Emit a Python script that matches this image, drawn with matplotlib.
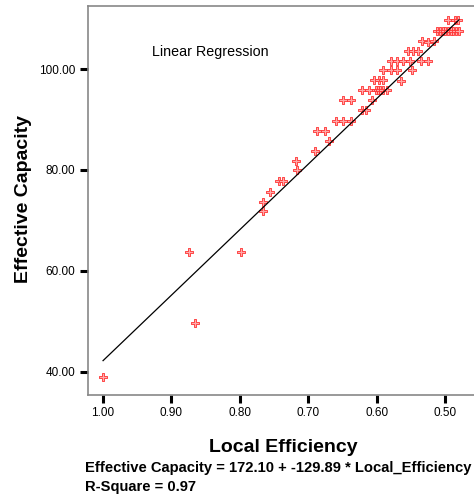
import numpy as np
import matplotlib
matplotlib.use("Agg")
import matplotlib.pyplot as plt

plt.rcParams['font.family'] = ['Liberation Sans', 'DejaVu Sans']

# local efficiency (x) and effective capacity (y)
local_eff = [1.000, 0.874, 0.866, 0.799,
             0.767, 0.767, 0.756, 0.743, 0.737, 0.718, 0.716,
             0.690, 0.687, 0.676, 0.670,
             0.660, 0.649, 0.638, 0.649, 0.638,
             0.621, 0.616, 0.607,
             0.621, 0.612, 0.601, 0.598, 0.596, 0.591, 0.585,
             0.604, 0.597, 0.591, 0.564,
             0.591, 0.580, 0.570, 0.548,
             0.580, 0.570, 0.562, 0.552, 0.535, 0.525,
             0.554, 0.547, 0.540,
             0.534, 0.525, 0.516,
             0.512, 0.508, 0.504, 0.500, 0.496, 0.492, 0.488, 0.484, 0.480,
             0.496, 0.486, 0.482]
eff_capacity = [39.0, 63.8, 49.7, 63.8,
                73.6, 71.8, 75.7, 77.8, 77.8, 81.8, 80.0,
                83.8, 87.8, 87.8, 85.8,
                89.8, 89.8, 89.8, 93.8, 93.8,
                91.8, 91.8, 93.8,
                95.8, 95.8, 95.8, 95.8, 95.8, 95.8, 95.8,
                97.8, 97.8, 97.8, 97.6,
                99.8, 99.8, 99.8, 99.8,
                101.6, 101.6, 101.6, 101.6, 101.6, 101.6,
                103.6, 103.6, 103.6,
                105.6, 105.4, 105.6,
                107.6, 107.6, 107.6, 107.6, 107.6, 107.6, 107.6, 107.6, 107.6,
                109.8, 109.8, 109.8]

intercept = 172.10
slope = -129.89
r_square = 0.97

x_ticks = [1.00, 0.90, 0.80, 0.70, 0.60, 0.50]
y_ticks = [40, 60, 80, 100]

fig = plt.figure(figsize=(4.74, 4.95), dpi=100)
ax = fig.add_axes([88 / 474, 1 - 395 / 495, 386 / 474, 389 / 495])

x = np.array(local_eff)
y = np.array(eff_capacity)
ax.scatter(x, y, marker='P', s=26, facecolor='#ffaaaa', edgecolor='#ff3030',
           linewidth=0.6, zorder=2)

xl = np.array([x.max(), x.min()])
ax.plot(xl, intercept + slope * xl, color='black', linewidth=0.9, zorder=3)

ax.set_xlim(1.022, 0.458)
ax.set_ylim(35.4, 112.5)
ax.set_xticks(x_ticks)
ax.set_xticklabels([f"{v:.2f}" for v in x_ticks])
ax.set_yticks(y_ticks)
ax.set_yticklabels([f"{v:.2f}" for v in y_ticks])
ax.tick_params(direction='out', length=6, width=2.2, color='black',
               labelsize=8.5, pad=3)

for s in ['top', 'left', 'bottom']:
    ax.spines[s].set_color('#888888')
    ax.spines[s].set_linewidth(1.2)
ax.spines['right'].set_visible(False)

fig.text(152 / 474, 1 - 52 / 495, "Linear Regression", fontsize=10.3,
         va='center', ha='left')

fig.text(24 / 474, 1 - 199 / 495, "Effective Capacity", rotation=90,
         fontsize=14, fontweight='bold', ha='center', va='center')
fig.text(283 / 474, 1 - 447 / 495, "Local Efficiency",
         fontsize=14, fontweight='bold', ha='center', va='center')
fig.text(85 / 474, 1 - 468 / 495,
         f"Effective Capacity = {intercept:.2f} + {slope:.2f} * Local_Efficiency",
         fontsize=10.6, fontweight='bold', ha='left', va='center')
fig.text(85 / 474, 1 - 487 / 495, f"R-Square = {r_square:.2f}",
         fontsize=10.6, fontweight='bold', ha='left', va='center')

fig.savefig("out.png", dpi=100)
